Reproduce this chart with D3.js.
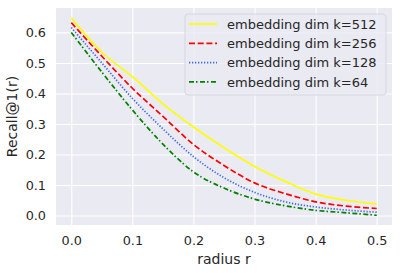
<!DOCTYPE html>
<html>
<head>
<meta charset="utf-8">
<script src="https://cdn.jsdelivr.net/npm/d3@7"></script>
<style>
  body { margin: 0; background: #fff; }
  svg text { font-family: "DejaVu Sans", sans-serif; fill: #262626; }
</style>
</head>
<body>
<script>
// data
var radius = [0, 0.05, 0.1, 0.15, 0.2, 0.25, 0.3, 0.35, 0.4, 0.45, 0.5];
var k512 = [0.648, 0.535, 0.455, 0.366, 0.29, 0.222, 0.161, 0.112, 0.07, 0.05, 0.038];
var k256 = [0.632, 0.522, 0.417, 0.325, 0.233, 0.164, 0.107, 0.072, 0.045, 0.031, 0.023];
var k128 = [0.616, 0.5, 0.384, 0.284, 0.193, 0.124, 0.076, 0.045, 0.028, 0.018, 0.011];
var k64 = [0.6, 0.47, 0.346, 0.234, 0.143, 0.09, 0.054, 0.032, 0.017, 0.009, 0.001];
var seriesNames = ["embedding dim k=512", "embedding dim k=256", "embedding dim k=128", "embedding dim k=64"];
var xTicks = [0, 0.1, 0.2, 0.3, 0.4, 0.5];
var yTicks = [0, 0.1, 0.2, 0.3, 0.4, 0.5, 0.6];

var width = 400, height = 273;
var margin = {left: 56, right: 8, top: 8, bottom: 48};

var styles = [
    {color: "#ffff00", dash: null},
    {color: "#ff0000", dash: "6,2.7"},
    {color: "#4169e1", dash: "1.3,1.7"},
    {color: "#008000", dash: "5,2,1.5,2.5"}
];
var allSeries = [k512, k256, k128, k64];

var svg = d3.select("body").append("svg")
    .attr("width", width)
    .attr("height", height);

var x = d3.scaleLinear().domain([-0.025, 0.525]).range([margin.left, width - margin.right]);
var y = d3.scaleLinear().domain([-0.031, 0.68]).range([height - margin.bottom, margin.top]);

svg.append("rect")
    .attr("x", margin.left)
    .attr("y", margin.top)
    .attr("width", width - margin.left - margin.right)
    .attr("height", height - margin.top - margin.bottom)
    .attr("fill", "#eaeaf2");

// grid + tick labels
var xAxis = svg.append("g")
    .attr("transform", "translate(0," + (height - margin.bottom) + ")")
    .call(d3.axisBottom(x).tickValues(xTicks).tickFormat(d3.format(".1f"))
        .tickSize(-(height - margin.top - margin.bottom)).tickPadding(11));
var yAxis = svg.append("g")
    .attr("transform", "translate(" + margin.left + ",0)")
    .call(d3.axisLeft(y).tickValues(yTicks).tickFormat(d3.format(".1f"))
        .tickSize(-(width - margin.left - margin.right)).tickPadding(10));

[xAxis, yAxis].forEach(function (a) {
    a.select(".domain").remove();
    a.selectAll(".tick line").attr("stroke", "#fff").attr("stroke-width", 1.1);
    a.selectAll(".tick text").attr("font-size", 12.8).attr("fill", "#262626");
});

var line = d3.line()
    .x(function (d, i) { return x(radius[i]); })
    .y(function (d) { return y(d); })
    .curve(d3.curveMonotoneX);

allSeries.forEach(function (s, i) {
    svg.append("path")
        .datum(s)
        .attr("d", line)
        .attr("fill", "none")
        .attr("stroke", styles[i].color)
        .attr("stroke-width", 1.7)
        .attr("stroke-dasharray", styles[i].dash);
});

// axis labels
svg.append("text")
    .attr("x", (margin.left + width - margin.right) / 2)
    .attr("y", 264)
    .attr("text-anchor", "middle")
    .attr("font-size", 14)
    .text("radius r");
svg.append("text")
    .attr("transform", "translate(17," + (margin.top + (height - margin.top - margin.bottom) / 2) + ") rotate(-90)")
    .attr("text-anchor", "middle")
    .attr("font-size", 14)
    .text("Recall@1(r)");

// legend
var legend = svg.append("g");
legend.append("rect")
    .attr("x", 185).attr("y", 14)
    .attr("width", 201).attr("height", 81)
    .attr("rx", 3)
    .attr("fill", "#eaeaf2").attr("fill-opacity", 0.8)
    .attr("stroke", "#d6d6de").attr("stroke-width", 1);
seriesNames.forEach(function (name, i) {
    var yy = 24 + i * 19.3;
    legend.append("line")
        .attr("x1", 189).attr("x2", 217)
        .attr("y1", yy).attr("y2", yy)
        .attr("stroke", styles[i].color)
        .attr("stroke-width", 1.7)
        .attr("stroke-dasharray", styles[i].dash);
    legend.append("text")
        .attr("x", 227).attr("y", yy)
        .attr("dy", "0.36em")
        .attr("font-size", 13)
        .text(name);
});
</script>
</body>
</html>
